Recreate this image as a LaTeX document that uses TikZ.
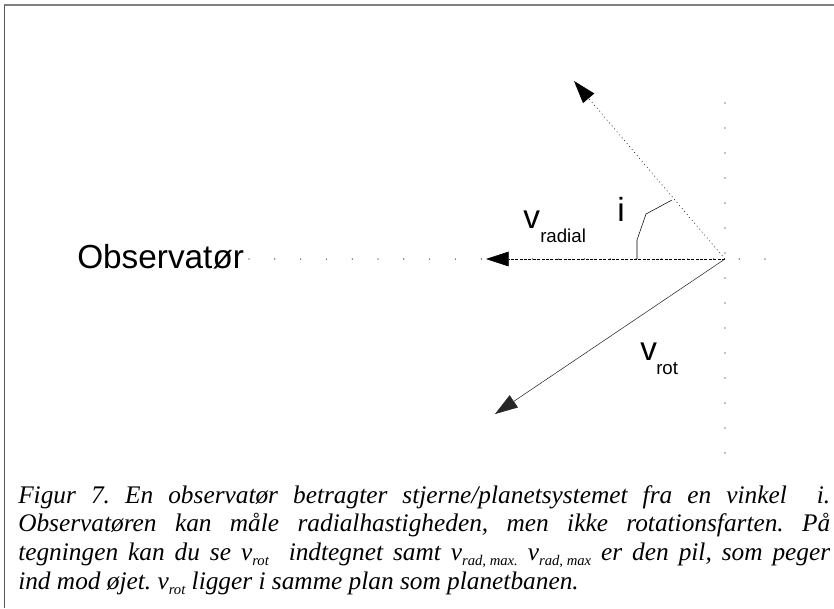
\documentclass[tikz,border=0pt]{standalone}
\usepackage{fontspec}
\setmainfont{Liberation Serif}
\newfontfamily\diagfont{Liberation Sans}
\usetikzlibrary{arrows.meta}

\newcommand{\lowtxt}[1]{\raisebox{-0.2em}{\fontsize{11}{11}\selectfont #1}}

\tikzset{
  bigtip/.style={-{Triangle[length=17pt,width=11pt]}},
  guide/.style={line width=0.9pt,line cap=round},
  lbl/.style={inner sep=0pt,anchor=base west,font=\diagfont\fontsize{25}{25}\selectfont},
  sublbl/.style={inner sep=0pt,anchor=base west,font=\diagfont\fontsize{14}{14}\selectfont},
}

\begin{document}
\begin{tikzpicture}[x=0.75pt,y=-0.75pt]
\useasboundingbox (0,0) rectangle (834,608);
\draw[gray,line width=1.5pt] (4,5)--(834,5);
\draw[gray!70!black,line width=0.75pt] (4,5)--(4,608);
\coordinate (O) at (725,259);
\coordinate (radtip) at (486,259);
\coordinate (incltip) at (574,81);
\coordinate (rottip) at (495,414);
\draw[guide,dash pattern=on 0pt off 19.35pt] (249,259)--(775,259);
\draw[guide,dash pattern=on 0pt off 18.75pt] (725,103)--(725,460);
\draw[thin] (637,259)--(637,240)--(646,214)--(672,200);
\draw[bigtip,dash pattern=on 2.2pt off 1.1pt] (O)--(radtip);
\draw[bigtip,dash pattern=on 0.7pt off 2.2pt] (O)--(incltip);
\draw[bigtip,black!85] (O)--(rottip);
\node[lbl] (obs) at (77,268) {Observatør};
\node[lbl] (vrad) at (523,228) {v};
\node[sublbl] (vradsub) at (540,242) {radial};
\node[lbl] (iang) at (617,221) {i};
\node[lbl] (vrot) at (640,360) {v};
\node[sublbl] (vrotsub) at (656,374) {rot};
\node[anchor=base west,inner sep=0pt,text width=609pt,align=justify,font=\itshape\fontsize{19}{21.5}\selectfont] (caption) at (18,503)
  {\frenchspacing\hyphenpenalty=10000 Figur 7. En observatør betragter stjerne/planetsystemet fra en vinkel\ \ i.\linebreak
   Observatøren kan måle radialhastigheden, men ikke rotationsfarten. På\linebreak
   tegningen kan du se v\lowtxt{rot}\ \ indtegnet samt v\lowtxt{rad, max.} v\lowtxt{rad, max} er den pil, som peger\linebreak
   ind mod øjet. v\lowtxt{rot} ligger i samme plan som planetbanen.};
\end{tikzpicture}
\end{document}
